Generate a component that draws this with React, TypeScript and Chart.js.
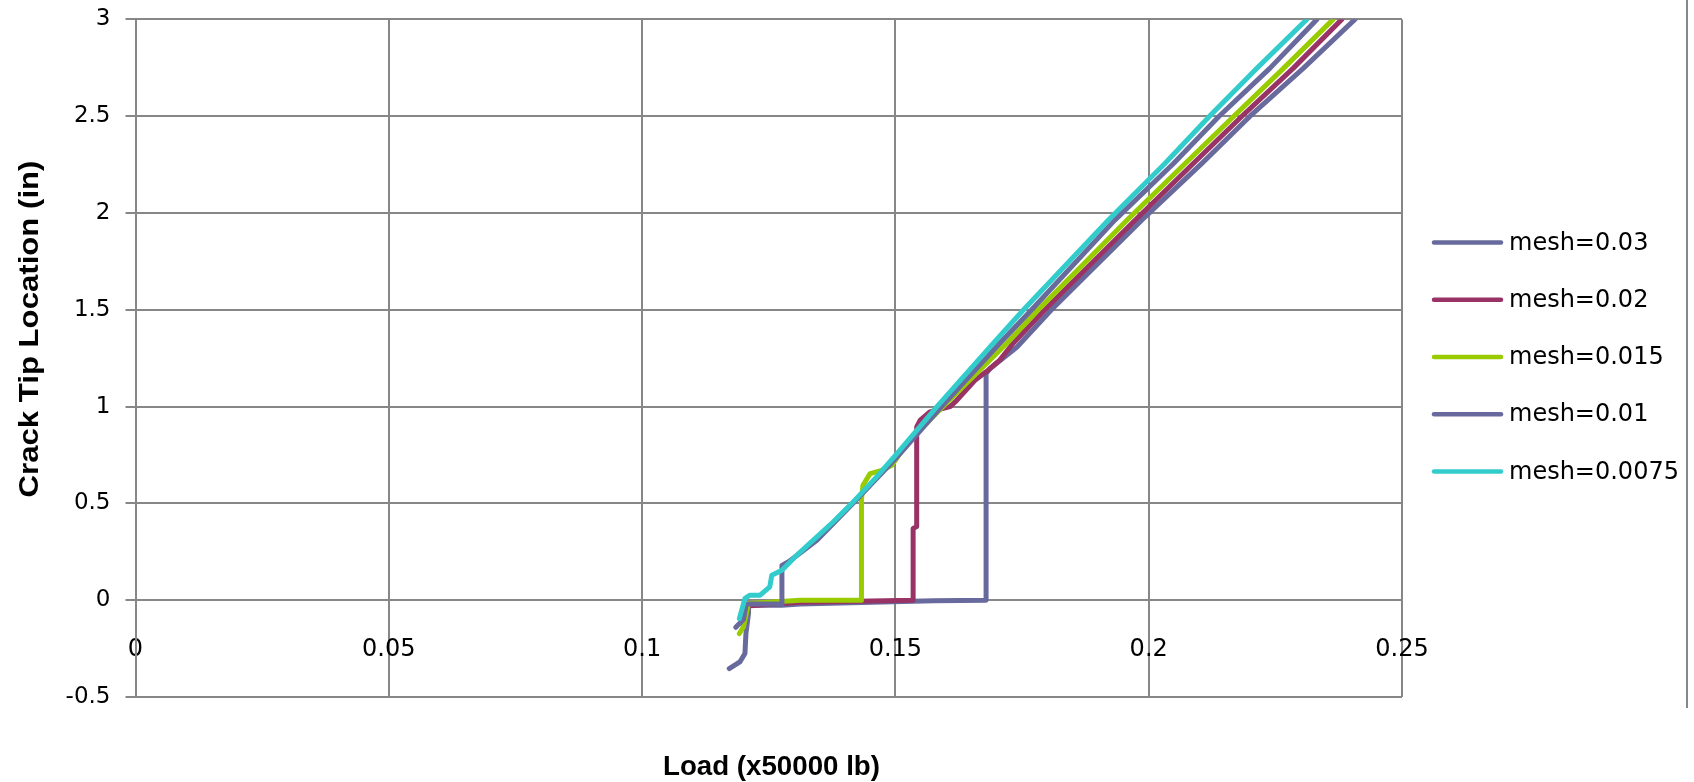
import React, { useEffect, useRef } from "react";
import { Chart, registerables } from "chart.js";

Chart.register(...registerables);

// ---------- data ----------
const xTickValues = [0, 0.05, 0.1, 0.15, 0.2, 0.25];
const yTickValues = [-0.5, 0, 0.5, 1, 1.5, 2, 2.5, 3];
const xTitle = "Load (x50000 lb)";
const yTitle = "Crack Tip Location (in)";

const seriesNames = ["mesh=0.03", "mesh=0.02", "mesh=0.015", "mesh=0.01", "mesh=0.0075"];
const seriesColors = ["#68699C", "#993366", "#99CC00", "#68699C", "#33CCCC"];

const mesh003Load = [0.1172, 0.1193, 0.1203, 0.1205, 0.121, 0.121, 0.1276, 0.1312, 0.1575, 0.1679, 0.1679, 0.1687, 0.174, 0.1808, 0.1986, 0.2105, 0.22, 0.2305, 0.2407];
const mesh003Crack = [-0.353, -0.319, -0.275, -0.172, -0.069, -0.026, -0.026, -0.02, -0.003, 0.0, 1.171, 1.197, 1.308, 1.5, 1.963, 2.256, 2.5, 2.747, 3.0];

const mesh002Load = [0.1198, 0.1207, 0.1312, 0.1535, 0.1535, 0.1542, 0.1542, 0.1549, 0.1568, 0.1608, 0.1618, 0.1657, 0.1683, 0.1706, 0.1732, 0.1795, 0.1973, 0.2088, 0.2184, 0.2285, 0.2381];
const mesh002Crack = [-0.12, -0.03, -0.01, 0.0, 0.37, 0.38, 0.895, 0.93, 0.973, 1.0, 1.024, 1.136, 1.188, 1.24, 1.326, 1.5, 1.963, 2.256, 2.5, 2.747, 3.0];

const mesh0015Load = [0.1192, 0.12, 0.121, 0.1312, 0.1433, 0.1433, 0.1436, 0.145, 0.1473, 0.1493, 0.1509, 0.1535, 0.1594, 0.172, 0.1782, 0.1957, 0.2072, 0.2168, 0.2266, 0.2364];
const mesh0015Crack = [-0.172, -0.138, -0.017, 0.0, 0.0, 0.517, 0.594, 0.654, 0.671, 0.697, 0.758, 0.843, 1.0, 1.327, 1.5, 1.963, 2.256, 2.5, 2.747, 3.0];

const mesh001Load = [0.1185, 0.12, 0.1205, 0.1207, 0.1276, 0.1276, 0.129, 0.1345, 0.1416, 0.15, 0.1591, 0.1706, 0.1769, 0.1933, 0.2049, 0.2139, 0.2239, 0.2332];
const mesh001Crack = [-0.14, -0.1, -0.03, -0.02, -0.02, 0.18, 0.2, 0.31, 0.5, 0.73, 1.0, 1.327, 1.5, 1.963, 2.256, 2.5, 2.747, 3.0];

const mesh00075Load = [0.1192, 0.1203, 0.1213, 0.1233, 0.1252, 0.1256, 0.1276, 0.1305, 0.1345, 0.1377, 0.1414, 0.1463, 0.1509, 0.1582, 0.1693, 0.1753, 0.192, 0.2032, 0.212, 0.2213, 0.2312];
const mesh00075Crack = [-0.095, 0.009, 0.026, 0.026, 0.069, 0.129, 0.155, 0.232, 0.327, 0.404, 0.5, 0.637, 0.775, 1.0, 1.327, 1.5, 1.963, 2.256, 2.5, 2.747, 3.0];

const seriesLoads = [mesh003Load, mesh002Load, mesh0015Load, mesh001Load, mesh00075Load];
const seriesCracks = [mesh003Crack, mesh002Crack, mesh0015Crack, mesh001Crack, mesh00075Crack];

// ---------- component ----------
export default function App() {
  const ref = useRef<HTMLCanvasElement>(null);

  useEffect(() => {
    document.body.style.margin = "0";
    const canvas = ref.current;
    if (!canvas) return;

    const gridColor = "#878787";

    const datasets = seriesNames.map((name, i) => ({
      label: name,
      data: seriesLoads[i].map((x, j) => ({ x, y: seriesCracks[i][j] })),
      borderColor: seriesColors[i],
      backgroundColor: seriesColors[i],
      borderWidth: 5,
      pointRadius: 0,
      pointHoverRadius: 0,
      showLine: true,
      fill: false,
      tension: 0,
      borderJoinStyle: "round" as const,
      borderCapStyle: "round" as const,
      order: seriesNames.length - i,
    }));

    const annotations = {
      id: "annotations",
      afterDraw(chart: any) {
        const ctx = chart.ctx as CanvasRenderingContext2D;
        ctx.save();
        // legend
        seriesNames.forEach((name, i) => {
          const y = 242.6 + i * 57.2;
          ctx.strokeStyle = seriesColors[i];
          ctx.lineWidth = 4.5;
          ctx.lineCap = "round";
          ctx.beginPath();
          ctx.moveTo(1434, y);
          ctx.lineTo(1501, y);
          ctx.stroke();
          ctx.fillStyle = "#000";
          ctx.font = '24px "DejaVu Sans"';
          ctx.textAlign = "left";
          ctx.textBaseline = "middle";
          ctx.fillText(name, 1509, y + 1);
        });
        // right frame line
        ctx.strokeStyle = gridColor;
        ctx.lineWidth = 2;
        ctx.lineCap = "butt";
        ctx.beginPath();
        ctx.moveTo(1687, 0);
        ctx.lineTo(1687, 708);
        ctx.stroke();
        // axis titles
        ctx.fillStyle = "#000";
        ctx.font = 'bold 28px "Liberation Sans"';
        ctx.textAlign = "center";
        ctx.textBaseline = "alphabetic";
        const drawTitle = (text: string, cx: number, cy: number, len: number, rot: number) => {
          const w = ctx.measureText(text).width;
          ctx.save();
          ctx.translate(cx, cy);
          ctx.rotate(rot);
          ctx.scale(len / w, 1);
          ctx.fillText(text, 0, 0);
          ctx.restore();
        };
        drawTitle(xTitle, 771.5, 775, 217, 0);
        drawTitle(yTitle, 37.5, 329, 337, -Math.PI / 2);
        ctx.restore();
      },
    };

    const chart = new Chart(canvas, {
      type: "scatter",
      data: { datasets: datasets as any },
      options: {
        animation: false,
        responsive: false,
        events: [],
        layout: { padding: { left: 0, top: 19.4, right: 292, bottom: 85 } },
        plugins: {
          legend: { display: false },
          tooltip: { enabled: false },
          title: { display: false },
        },
        scales: {
          x: {
            type: "linear",
            min: 0,
            max: 0.25,
            position: { y: 0 } as any,
            afterBuildTicks: (s: any) => {
              s.ticks = xTickValues.map((v) => ({ value: v }));
            },
            afterFit: (s: any) => {
              s.paddingTop = 0;
              s.paddingBottom = 0;
            },
            ticks: {
              autoSkip: false,
              maxRotation: 0,
              minRotation: 0,
              color: "#000",
              font: { family: "DejaVu Sans", size: 24 },
              padding: 35,
              callback: (v: any) => String(v),
            },
            grid: { color: gridColor, lineWidth: 2, drawTicks: false },
            border: { color: gridColor, width: 2 },
          },
          y: {
            type: "linear",
            min: -0.5,
            max: 3,
            afterBuildTicks: (s: any) => {
              s.ticks = yTickValues.map((v) => ({ value: v }));
            },
            afterFit: (s: any) => {
              s.width = 135.5;
              s.paddingTop = 0;
              s.paddingBottom = 0;
            },
            ticks: {
              autoSkip: false,
              color: "#000",
              font: { family: "DejaVu Sans", size: 23 },
              padding: 15,
              callback: (v: any) => String(v),
            },
            grid: { color: gridColor, lineWidth: 2, tickLength: 10 },
            border: { color: gridColor, width: 2 },
          },
        },
      },
      plugins: [annotations],
    });

    return () => chart.destroy();
  }, []);

  return (
    <div style={{ position: "absolute", left: 0, top: 0, width: 1694, height: 782, background: "#fff" }}>
      <canvas ref={ref} width={1694} height={782} style={{ display: "block" }} />
    </div>
  );
}
